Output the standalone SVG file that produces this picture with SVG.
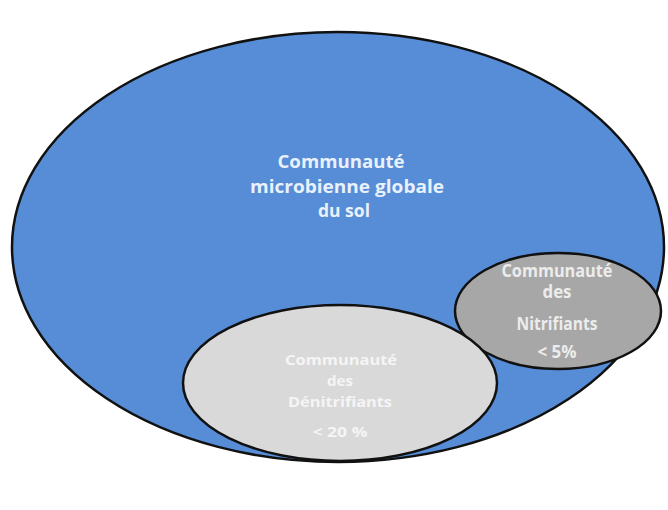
<svg xmlns="http://www.w3.org/2000/svg" width="668" height="510" viewBox="0 0 668 510">
  <style>
    .set { stroke: #111; stroke-width: 2.5; }
    .label { font-family: "Open Sans", "Liberation Sans", sans-serif; font-weight: bold; font-size: 17px; text-anchor: middle; }
    .tight { font-size: 15px; }
    .global { fill: #e9f1fb; }
    .nitri { fill: #ececec; }
    .denitri { fill: #f5f5f5; }
  </style>
  <rect width="668" height="510" fill="#ffffff"/>

  <!-- whole soil microbial community -->
  <g id="global">
    <ellipse class="set" cx="338" cy="247" rx="326" ry="215" fill="#578cd6"/>
    <text class="label global" x="341" y="168" textLength="127" lengthAdjust="spacingAndGlyphs">Communauté</text>
    <text class="label global" x="347" y="193" textLength="194" lengthAdjust="spacingAndGlyphs">microbienne globale</text>
    <text class="label global" x="344" y="217" textLength="52" lengthAdjust="spacingAndGlyphs">du sol</text>
  </g>

  <!-- nitrifiers subset -->
  <g id="nitrifiants">
    <ellipse class="set" cx="558" cy="311" rx="103" ry="58" fill="#a7a7a7"/>
    <text class="label nitri" x="557" y="277" textLength="111" lengthAdjust="spacingAndGlyphs">Communauté</text>
    <text class="label nitri" x="557" y="298" textLength="29" lengthAdjust="spacingAndGlyphs">des</text>
    <text class="label nitri" x="557" y="330" textLength="81" lengthAdjust="spacingAndGlyphs">Nitrifiants</text>
    <text class="label nitri" x="557" y="358" textLength="39" lengthAdjust="spacingAndGlyphs">&lt; 5%</text>
  </g>

  <!-- denitrifiers subset -->
  <g id="denitrifiants">
    <ellipse class="set" cx="340" cy="383" rx="157" ry="78" fill="#d9d9d9"/>
    <text class="label tight denitri" x="341" y="365" textLength="112" lengthAdjust="spacingAndGlyphs">Communauté</text>
    <text class="label tight denitri" x="340" y="386" textLength="26" lengthAdjust="spacingAndGlyphs">des</text>
    <text class="label tight denitri" x="340" y="407" textLength="104" lengthAdjust="spacingAndGlyphs">Dénitrifiants</text>
    <text class="label tight denitri" x="340" y="437" textLength="55" lengthAdjust="spacingAndGlyphs">&lt; 20 %</text>
  </g>

  <g id="connectors"/>
</svg>
